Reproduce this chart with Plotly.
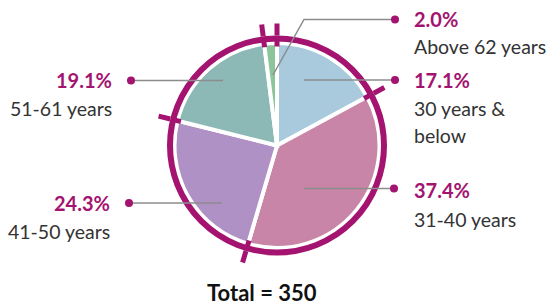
import plotly.graph_objects as go
import numpy as np

# ---- data ----
label_lines = [["30 years &", "below"], ["31-40 years"], ["41-50 years"], ["51-61 years"], ["Above 62 years"]]
percents = [17.1, 37.4, 24.3, 19.1, 2.0]
total_n = 350

# ---- styles ----
slice_colors = ["#a9c9dc", "#c985a7", "#af91c5", "#8cb9b6", "#8dc59b"]
MAGENTA = "#a3136f"
TEXT = "#333333"
LEADER = "#8c8c8c"
FONT = "Lato"
W, H = 551, 305
CX, CY = 277, 145.5       # pie centre in pixels
RING_R = 107              # ring radius (px)
PIE_R = 102.5             # slice radius (px)

def fx(x):
    return x / W

def fy(y):
    return 1 - y / H

p = np.array(percents)
frac = p / p.sum()
widths = frac * 360
starts = np.concatenate([[0], np.cumsum(widths)[:-1]])
mids = starts + widths / 2

fig = go.Figure()
fig.add_trace(go.Barpolar(
    r=[PIE_R] * len(percents), theta=mids, width=widths,
    marker=dict(color=slice_colors, line=dict(color="white", width=4)),
    hoverinfo="skip", showlegend=False,
))
# inner part of the boundary ticks
tick_r, tick_t = [], []
for a in starts:
    tick_r += [99, RING_R, None]
    tick_t += [a, a, None]
fig.add_trace(go.Scatterpolar(
    r=tick_r, theta=tick_t, mode="lines",
    line=dict(color=MAGENTA, width=5), cliponaxis=False,
    hoverinfo="skip", showlegend=False,
))

fig.update_layout(
    width=W, height=H, margin=dict(l=0, r=0, t=0, b=0),
    paper_bgcolor="white", plot_bgcolor="white", showlegend=False,
    polar=dict(
        domain=dict(x=[fx(CX - RING_R), fx(CX + RING_R)], y=[fy(CY + RING_R), fy(CY - RING_R)]),
        bgcolor="rgba(0,0,0,0)",
        radialaxis=dict(visible=False, range=[0, RING_R]),
        angularaxis=dict(
            rotation=90, direction="clockwise", showgrid=False,
            showline=True, linecolor=MAGENTA, linewidth=6,
            ticks="outside", tickvals=list(starts), ticklen=12, tickwidth=5,
            tickcolor=MAGENTA, showticklabels=False,
        ),
    ),
)

# ---- label layout (pixels) ----
label_pos = [
    dict(x=412, anchor="left", ys=[80, 108, 135.5], dot=(395, 80), path=[(304, 80)]),
    dict(x=412, anchor="left", ys=[190, 219], dot=(394, 188.5), path=[(304, 188.5)]),
    dict(x=112, anchor="right", ys=[202.7, 231], dot=(129, 203), path=[(222, 203)]),
    dict(x=114, anchor="right", ys=[80.3, 108.8], dot=(131, 80.5), path=[(223, 80.5)]),
    dict(x=412, anchor="left", ys=[19, 46], dot=(395, 19.5), path=[(304, 19.5), (273, 75)]),
]

for i, pos in enumerate(label_pos):
    ys = pos["ys"]
    fig.add_annotation(
        x=fx(pos["x"]), y=fy(ys[0]), xref="paper", yref="paper",
        xanchor=pos["anchor"], yanchor="middle", showarrow=False,
        text=f"<b>{percents[i]:.1f}%</b>",
        font=dict(family=FONT, size=20, color=MAGENTA),
    )
    for line, yy in zip(label_lines[i], ys[1:]):
        fig.add_annotation(
            x=fx(pos["x"]), y=fy(yy), xref="paper", yref="paper",
            xanchor=pos["anchor"], yanchor="middle", showarrow=False,
            text=line, font=dict(family=FONT, size=19.5, color=TEXT),
        )
    dx, dy = pos["dot"]
    pts = [pos["dot"]] + pos["path"]
    path = "M " + " L ".join(f"{fx(a)},{fy(b)}" for a, b in pts)
    fig.add_shape(type="path", path=path, xref="paper", yref="paper",
                  line=dict(color=LEADER, width=1.5), layer="above")
    fig.add_shape(type="circle", xref="paper", yref="paper",
                  x0=fx(dx - 4), x1=fx(dx + 4), y0=fy(dy + 4), y1=fy(dy - 4),
                  fillcolor=MAGENTA, line=dict(width=0), layer="above")

fig.add_annotation(
    x=fx(262), y=fy(292), xref="paper", yref="paper",
    xanchor="center", yanchor="middle", showarrow=False,
    text=f"<b>Total = {total_n}</b>",
    font=dict(family=FONT, size=22, color="#111111"),
)

fig.write_html("out.html", config={"displayModeBar": False},
               post_script="document.body.style.margin='0';document.body.style.padding='0';")
